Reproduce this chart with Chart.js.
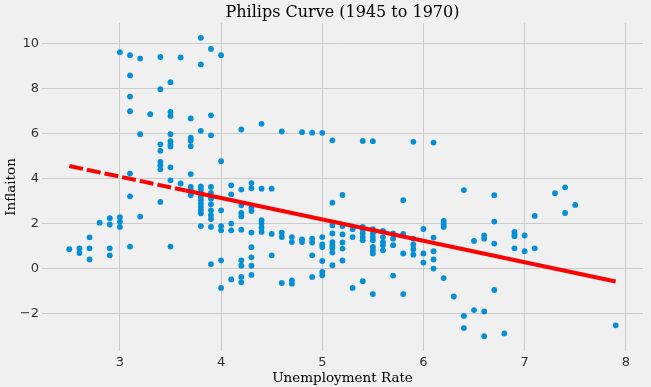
<!DOCTYPE html>
<html>
<head>
<meta charset="utf-8">
<script src="https://cdn.jsdelivr.net/npm/chart.js@4.4.1/dist/chart.umd.min.js"></script>
<style>
  html, body { margin: 0; padding: 0; background: #f0f0f0; }
  #wrap { width: 651px; height: 387px; }
</style>
</head>
<body>
<div id="wrap"><canvas id="c" width="651" height="387"></canvas></div>
<script>
// Unemployment rate columns (x) and the inflation values observed in each column (y)
const unemploymentColumns = [2.5, 2.6, 2.7, 2.8, 2.9, 3.0, 3.1, 3.2, 3.3, 3.4, 3.5, 3.6, 3.7, 3.8, 3.9,
  4.0, 4.1, 4.2, 4.3, 4.4, 4.5, 4.6, 4.7, 4.8, 4.9, 5.0, 5.1, 5.2, 5.3, 5.4, 5.5, 5.6, 5.7, 5.8, 5.9,
  6.0, 6.1, 6.2, 6.3, 6.4, 6.5, 6.6, 6.7, 6.8, 6.9, 7.0, 7.1, 7.3, 7.4, 7.5, 7.9];
const inflationByColumn = [
  [0.86],
  [0.9, 0.69],
  [1.39, 0.9, 0.41],
  [2.04],
  [2.24, 1.96, 0.9, 0.59],
  [9.61, 2.29, 2.09, 1.85],
  [9.48, 8.58, 7.64, 6.99, 4.22, 3.21, 0.98],
  [9.33, 5.97, 2.31],
  [6.86],
  [9.4, 7.97, 5.52, 5.23, 4.74, 4.59, 4.41, 2.96],
  [8.28, 6.96, 6.78, 5.97, 5.66, 5.52, 5.42, 4.5, 3.92, 0.98],
  [9.38, 3.78],
  [6.67, 5.82, 5.69, 5.44, 4.2, 3.63, 3.48, 3.26],
  [10.25, 9.07, 6.12, 3.65, 3.51, 3.36, 3.18, 3.04, 2.89, 2.74, 2.6, 2.45, 1.89],
  [9.76, 6.81, 5.92, 3.63, 3.36, 3.11, 2.86, 2.59, 2.37, 2.2, 1.85, 0.2],
  [9.48, 4.77, 2.59, 1.89, 1.7, 0.37, -0.86],
  [3.7, 3.3, 2.0, 1.7, -0.48],
  [6.18, 3.51, 2.81, 2.47, 2.32, 1.73, 0.37, 0.13, -0.37, -0.61],
  [3.8, 3.57, 2.71, 2.56, 1.6, 0.95, 0.5, 0.13, -0.28],
  [6.43, 3.55, 2.15, 2.0, 1.82, 1.63],
  [3.55, 1.54, 0.59],
  [6.09, 1.6, 1.4, -0.64],
  [1.4, 1.18, -0.52, -0.67],
  [6.06, 1.3, 1.18],
  [6.04, 1.33, 1.16, 0.59, -0.37],
  [6.03, 1.4, 1.07, 0.96, 0.34, -0.15, -0.3],
  [5.7, 2.93, 1.92, 1.56, 1.18, 1.04, 0.92, 0.71, 0.15],
  [3.27, 1.89, 1.52, 1.16, 0.89, 0.36],
  [1.75, 1.4, -0.86],
  [5.67, 1.85, 1.7, 1.56, 1.4, 1.26, -0.56],
  [5.66, 1.75, 1.56, 1.4, 1.26, 0.96, 0.81, 0.67, -1.13],
  [1.68, 1.4, 1.18, 1.04, 0.81],
  [1.56, 1.33, 1.04, -0.31],
  [3.04, 1.54, 0.67, -1.13],
  [5.63, 1.33, 1.07, 0.86, 0.62],
  [1.76, 0.67, 0.27],
  [5.6, 1.38, 0.77, 0.41, 0.0],
  [2.12, 1.97, 1.85, -0.42],
  [-1.24],
  [3.49, -2.1, -2.64],
  [1.23, -1.84],
  [1.48, 1.33, -1.9, -3.0],
  [3.26, 2.09, 1.11, -0.95],
  [-2.88],
  [1.63, 1.52, 1.44, 0.9],
  [1.47, 0.77],
  [2.34, 0.9],
  [3.35],
  [3.61, 2.47],
  [2.83],
  [-2.52]
];
// Fitted regression line
const fitSlope = -0.95;
const fitIntercept = 6.934;
const fitDashedX = [2.5, 3.65];
const fitSolidX = [3.65, 7.9];
// Tick labels and texts
const xTicks = [3, 4, 5, 6, 7, 8];
const yTicks = [-2, 0, 2, 4, 6, 8, 10];
const chartTitle = 'Philips Curve (1945 to 1970)';

const points = [];
unemploymentColumns.forEach((u, k) => {
  inflationByColumn[k].forEach(v => points.push({ x: u, y: v }));
});
const fitPts = xs => xs.map(x => ({ x: x, y: fitIntercept + fitSlope * x }));

const bgPlugin = {
  id: 'bg',
  beforeDraw(chart) {
    const ctx = chart.ctx;
    ctx.save();
    ctx.fillStyle = '#f0f0f0';
    ctx.fillRect(0, 0, chart.width, chart.height);
    ctx.restore();
  }
};
// Title centred over the plotting area (as matplotlib does)
const axesTitlePlugin = {
  id: 'axesTitle',
  afterDraw(chart) {
    const ctx = chart.ctx, a = chart.chartArea;
    ctx.save();
    ctx.fillStyle = '#000';
    ctx.font = '16px "DejaVu Serif"';
    ctx.textAlign = 'center';
    ctx.textBaseline = 'middle';
    ctx.fillText(chartTitle, (a.left + a.right) / 2, 12.5);
    ctx.restore();
  }
};

new Chart(document.getElementById('c'), {
  type: 'scatter',
  data: {
    datasets: [
      {
        type: 'line',
        data: fitPts(fitDashedX),
        borderColor: '#ff0000',
        borderWidth: 4,
        borderDash: [14, 4],
        borderCapStyle: 'butt',
        pointRadius: 0,
        fill: false,
        order: 0
      },
      {
        type: 'line',
        data: fitPts(fitSolidX),
        borderColor: '#ff0000',
        borderWidth: 4,
        borderCapStyle: 'butt',
        pointRadius: 0,
        fill: false,
        order: 0
      },
      {
        data: points,
        backgroundColor: '#008fd5',
        borderColor: '#008fd5',
        borderWidth: 0,
        pointRadius: 2.9,
        order: 1
      }
    ]
  },
  options: {
    responsive: false,
    animation: false,
    devicePixelRatio: 1,
    layout: { padding: { left: 0, right: 8, top: 23, bottom: 0 } },
    plugins: {
      legend: { display: false },
      tooltip: { enabled: false },
      title: { display: false }
    },
    scales: {
      x: {
        type: 'linear',
        min: 2.23,
        max: 8.17,
        afterBuildTicks: s => { s.ticks = xTicks.map(v => ({ value: v })); },
        afterFit: s => { s.height = 36; },
        grid: { color: '#cbcbcb', lineWidth: 1, drawTicks: false },
        border: { display: false },
        ticks: {
          color: '#333',
          font: { family: 'DejaVu Sans', size: 13 },
          padding: 4,
          maxRotation: 0
        },
        title: {
          display: true,
          text: 'Unemployment Rate',
          color: '#000',
          font: { family: 'DejaVu Serif', size: 13.5 },
          padding: { top: 0, bottom: 0 }
        }
      },
      y: {
        type: 'linear',
        min: -3.66,
        max: 10.91,
        afterBuildTicks: s => { s.ticks = yTicks.map(v => ({ value: v })); },
        afterFit: s => { s.width = 42; },
        grid: { color: '#cbcbcb', lineWidth: 1, drawTicks: false },
        border: { display: false },
        ticks: {
          color: '#333',
          font: { family: 'DejaVu Sans', size: 13 },
          padding: 3,
          callback: v => (v < 0 ? '\u2212' + Math.abs(v) : String(v))
        },
        title: {
          display: true,
          text: 'Inflaiton',
          color: '#000',
          font: { family: 'DejaVu Serif', size: 13.5 },
          padding: { top: 3, bottom: 0 }
        }
      }
    }
  },
  plugins: [bgPlugin, axesTitlePlugin]
});
</script>
</body>
</html>
